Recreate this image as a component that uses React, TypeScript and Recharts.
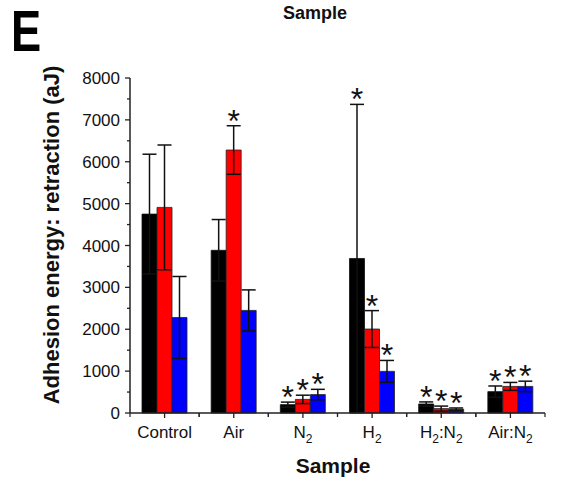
import { BarChart, Bar, XAxis, YAxis, ErrorBar } from 'recharts';

const categories = ['Control', 'Air', 'N2', 'H2', 'H2:N2', 'Air:N2'];

const blackMean = [4750, 3885, 200, 3690, 215, 510];
const blackErr = [1430, 735, 60, 3680, 50, 135];
const blackStar = [false, false, true, true, true, true];

const redMean = [4910, 6280, 325, 2005, 105, 635];
const redErr = [1490, 580, 100, 440, 60, 95];
const redStar = [false, true, true, true, true, true];

const blueMean = [2280, 2450, 440, 995, 90, 635];
const blueErr = [980, 490, 125, 260, 30, 125];
const blueStar = [false, false, true, true, true, true];

const yMajorTicks = [0, 1000, 2000, 3000, 4000, 5000, 6000, 7000, 8000];
const yMinorTicks = [500, 1500, 2500, 3500, 4500, 5500, 6500, 7500];

const data = categories.map((name, i) => ({
  name,
  black: blackMean[i],
  blackErr: blackErr[i],
  red: redMean[i],
  redErr: redErr[i],
  blue: blueMean[i],
  blueErr: blueErr[i],
}));

const FONT = '"Liberation Sans", Arial, sans-serif';
const HALF_BAND = 415 / categories.length / 2;

// label text with digits drawn as subscripts (N2 -> N₂)
function SubText({ text }: { text: string }) {
  const parts = text.split(/(\d)/).filter((p) => p !== '');
  let sub = false;
  return (
    <>
      {parts.map((p, i) => {
        const isDigit = /\d/.test(p);
        const dy = isDigit && !sub ? 5 : !isDigit && sub ? -5 : 0;
        sub = isDigit;
        return (
          <tspan key={i} dy={dy} fontSize={isDigit ? 12 : 17}>
            {p}
          </tspan>
        );
      })}
    </>
  );
}

function XTick(props: any) {
  const { x, y, payload } = props;
  return (
    <g>
      <line x1={x} x2={x} y1={y} y2={y + 5} stroke="#222" strokeWidth={1.3} />
      <line x1={x - HALF_BAND} x2={x - HALF_BAND} y1={y} y2={y + 4} stroke="#222" strokeWidth={1.2} />
      <line x1={x + HALF_BAND} x2={x + HALF_BAND} y1={y} y2={y + 4} stroke="#222" strokeWidth={1.2} />
      <text x={x} y={y + 25} textAnchor="middle" fill="#111" fontFamily={FONT} fontSize={17}>
        <SubText text={payload.value} />
      </text>
    </g>
  );
}

function YTick(props: any) {
  const { x, y, payload } = props;
  const major = yMajorTicks.includes(payload.value);
  return (
    <g>
      <line x1={x - (major ? 5 : 3)} x2={x} y1={y} y2={y} stroke="#222" strokeWidth={1.3} />
      {major && (
        <text x={x - 10} y={y + 6} textAnchor="end" fill="#111" fontFamily={FONT} fontSize={17}>
          {payload.value}
        </text>
      )}
    </g>
  );
}

const starLabel = (stars: boolean[], means: number[], errs: number[]) => (props: any) => {
  const { x, y, width, height, index } = props;
  if (index == null || !stars[index]) return null;
  const pxPerUnit = height / means[index];
  const top = y - errs[index] * pxPerUnit;
  return (
    <text
      key={`star-${index}`}
      x={x + width / 2}
      y={top + 6}
      textAnchor="middle"
      fill="#111"
      fontFamily={FONT}
      fontSize={32}
    >
      *
    </text>
  );
};

export default function App() {
  return (
    <div style={{ position: 'absolute', left: 0, top: 0, width: 573, height: 491, background: '#fff' }}>
      <BarChart
        width={573}
        height={491}
        data={data}
        margin={{ top: 78, right: 28, bottom: 38, left: 70 }}
        barGap={0}
        barSize={15}
      >
        <XAxis
          dataKey="name"
          interval={0}
          height={40}
          tickSize={0}
          tickMargin={0}
          tickLine={false}
          tick={<XTick />}
          axisLine={{ stroke: '#222', strokeWidth: 1.5 }}
        />
        <YAxis
          width={60}
          domain={[0, 8000]}
          ticks={[...yMajorTicks, ...yMinorTicks].sort((a, b) => a - b)}
          interval={0}
          tickSize={0}
          tickMargin={0}
          tickLine={false}
          tick={<YTick />}
          axisLine={{ stroke: '#222', strokeWidth: 1.5 }}
        />
        <Bar
          dataKey="black"
          fill="#000000"
          stroke="#111"
          strokeWidth={0.8}
          isAnimationActive={false}
          label={starLabel(blackStar, blackMean, blackErr)}
        >
          <ErrorBar dataKey="blackErr" width={7} stroke="#111" strokeWidth={1.5} direction="y" />
        </Bar>
        <Bar
          dataKey="red"
          fill="#ff0000"
          stroke="#222"
          strokeWidth={0.8}
          isAnimationActive={false}
          label={starLabel(redStar, redMean, redErr)}
        >
          <ErrorBar dataKey="redErr" width={7} stroke="#111" strokeWidth={1.5} direction="y" />
        </Bar>
        <Bar
          dataKey="blue"
          fill="#0000ff"
          stroke="#222"
          strokeWidth={0.8}
          isAnimationActive={false}
          label={starLabel(blueStar, blueMean, blueErr)}
        >
          <ErrorBar dataKey="blueErr" width={7} stroke="#111" strokeWidth={1.5} direction="y" />
        </Bar>
      </BarChart>
      <svg
        width={573}
        height={491}
        style={{ position: 'absolute', left: 0, top: 0, pointerEvents: 'none' }}
      >
        <text
          x={0}
          y={0}
          transform="translate(11,51) scale(0.78,1)"
          fontFamily={FONT}
          fontWeight="bold"
          fontSize={58}
          fill="#000"
        >
          E
        </text>
        <text x={315} y={19} textAnchor="middle" fontFamily={FONT} fontWeight="bold" fontSize={18} fill="#111">
          Sample
        </text>
        <text x={333} y={473} textAnchor="middle" fontFamily={FONT} fontWeight="bold" fontSize={21} fill="#111">
          Sample
        </text>
        <text
          x={0}
          y={0}
          transform="translate(59,235) rotate(-90)"
          textAnchor="middle"
          fontFamily={FONT}
          fontWeight="bold"
          fontSize={22}
          fill="#111"
        >
          Adhesion energy: retraction (aJ)
        </text>
      </svg>
    </div>
  );
}
